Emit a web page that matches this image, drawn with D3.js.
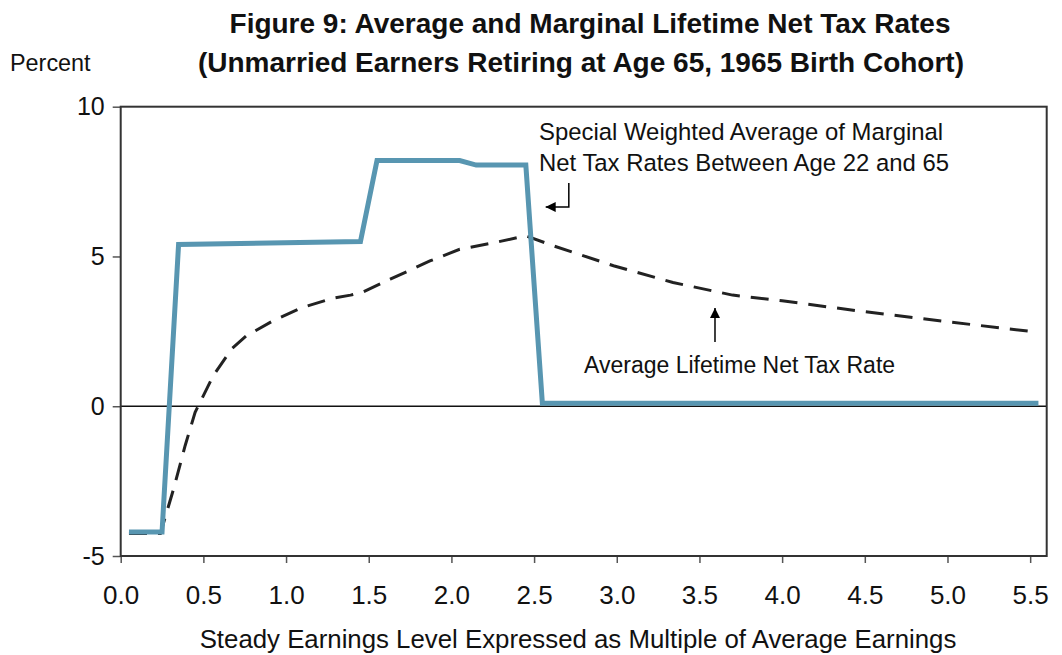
<!DOCTYPE html>
<html lang="en">

<head>
	<meta charset="UTF-8">
	<title>Figure 9</title>
	<style type="text/css">
		body { margin: 0; background: #fff; }
		text { font-family: 'Liberation Sans', Arial, sans-serif; fill: #111; }
	</style>
</head>

<body>
	<div id="chart"></div>

	<script src="https://d3js.org/d3.v7.min.js"></script>
	<script>
		// marginal net tax rate (solid blue step line)
		var marginalX = [0.05, 0.25, 0.35, 1.45, 1.55, 2.05, 2.15, 2.45, 2.55, 5.55];
		var marginalY = [-4.2, -4.2, 5.4, 5.5, 8.2, 8.2, 8.05, 8.05, 0.1, 0.1];

		// average lifetime net tax rate (dashed)
		var averageX = [0.05, 0.24, 0.32, 0.39, 0.45, 0.56, 0.67, 0.76, 0.92, 1.1, 1.28, 1.39, 1.46, 1.63, 1.87, 2.05, 2.25, 2.45, 2.62, 2.98, 3.34, 3.7, 4.0, 4.45, 5.0, 5.55];
		var averageY = [-4.25, -4.25, -2.76, -1.31, -0.2, 1.02, 1.91, 2.35, 2.85, 3.3, 3.6, 3.71, 3.8, 4.24, 4.85, 5.24, 5.45, 5.69, 5.35, 4.69, 4.13, 3.71, 3.52, 3.19, 2.82, 2.47];

		var xTicks = [0, 0.5, 1, 1.5, 2, 2.5, 3, 3.5, 4, 4.5, 5, 5.5];
		var yTicks = [-5, 0, 5, 10];

		var width = 1062, height = 655;
		var margin = { top: 106.7, right: 15.3, bottom: 99, left: 120.7 };

		var svg = d3.select('#chart')
			.append('svg')
			.attr('width', width)
			.attr('height', height);

		var xScale = d3.scaleLinear()
			.domain([0, 5.6])
			.range([margin.left, width - margin.right]);

		var yScale = d3.scaleLinear()
			.domain([-5, 10])
			.range([height - margin.bottom, margin.top]);

		var defs = svg.append('defs');
		defs.append('marker')
			.attr('id', 'head')
			.attr('viewBox', '0 0 10 10')
			.attr('refX', 10).attr('refY', 5)
			.attr('markerWidth', 10).attr('markerHeight', 10)
			.attr('markerUnits', 'userSpaceOnUse')
			.attr('orient', 'auto')
			.append('path')
			.attr('d', 'M0,0 L10,5 L0,10 Z')
			.attr('fill', '#000');

		// axes
		var xAxis = svg.append('g')
			.attr('transform', `translate(0, ${yScale(-5)})`)
			.call(d3.axisBottom(xScale).tickValues(xTicks).tickSize(7).tickPadding(23)
				.tickFormat(d3.format('.1f')));
		xAxis.select('.domain').remove();
		xAxis.selectAll('line').attr('stroke', '#555').attr('stroke-width', 1.5);
		xAxis.selectAll('text').style('font-size', '26px').attr('fill', '#111');

		var yAxis = svg.append('g')
			.attr('transform', `translate(${margin.left}, 0)`)
			.call(d3.axisLeft(yScale).tickValues(yTicks).tickSize(8).tickPadding(8)
				.tickFormat((d) => String(d)));
		yAxis.select('.domain').remove();
		yAxis.selectAll('line').attr('stroke', '#555').attr('stroke-width', 1.5);
		yAxis.selectAll('text').style('font-size', '25px').attr('fill', '#111');

		// zero line
		svg.append('line')
			.attr('x1', xScale(0)).attr('x2', xScale(5.6))
			.attr('y1', yScale(0)).attr('y2', yScale(0))
			.attr('stroke', '#111')
			.attr('stroke-width', 1.5);

		// plot frame
		svg.append('rect')
			.attr('x', xScale(0)).attr('y', yScale(10))
			.attr('width', xScale(5.6) - xScale(0))
			.attr('height', yScale(-5) - yScale(10))
			.attr('fill', 'none')
			.attr('stroke', '#333')
			.attr('stroke-width', 2);

		var lineGen = d3.line()
			.x((d) => xScale(d[0]))
			.y((d) => yScale(d[1]));

		svg.append('path')
			.datum(d3.zip(averageX, averageY))
			.attr('d', lineGen)
			.attr('fill', 'none')
			.attr('stroke', '#222')
			.attr('stroke-width', 3)
			.style('stroke-dasharray', '18,11');

		svg.append('path')
			.datum(d3.zip(marginalX, marginalY))
			.attr('d', lineGen)
			.attr('fill', 'none')
			.attr('stroke', '#5896b1')
			.attr('stroke-width', 5)
			.attr('stroke-linejoin', 'miter');

		// title
		var title = svg.append('text')
			.attr('text-anchor', 'middle')
			.style('font-weight', 'bold')
			.style('font-size', '28px');
		title.append('tspan').attr('x', 590).attr('y', 33)
			.text('Figure 9: Average and Marginal Lifetime Net Tax Rates');
		title.append('tspan').attr('x', 581).attr('y', 72)
			.text('(Unmarried Earners Retiring at Age 65, 1965 Birth Cohort)');

		svg.append('text')
			.attr('x', 10).attr('y', 71)
			.style('font-size', '23.4px')
			.text('Percent');

		svg.append('text')
			.attr('x', 578).attr('y', 648)
			.attr('text-anchor', 'middle')
			.style('font-size', '25.8px')
			.text('Steady Earnings Level Expressed as Multiple of Average Earnings');

		// annotations
		var note = svg.append('text').style('font-size', '23.9px');
		note.append('tspan').attr('x', 539).attr('y', 140)
			.text('Special Weighted Average of Marginal');
		note.append('tspan').attr('x', 539).attr('y', 171)
			.text('Net Tax Rates Between Age 22 and 65');

		svg.append('path')
			.attr('d', `M${xScale(2.71)},183 V207 H${xScale(2.57)}`)
			.attr('fill', 'none')
			.attr('stroke', '#000')
			.attr('stroke-width', 1.5)
			.attr('marker-end', 'url(#head)');

		svg.append('text')
			.attr('x', 584).attr('y', 373)
			.style('font-size', '23px')
			.text('Average Lifetime Net Tax Rate');

		svg.append('line')
			.attr('x1', xScale(3.594)).attr('x2', xScale(3.594))
			.attr('y1', 342).attr('y2', 308)
			.attr('stroke', '#000')
			.attr('stroke-width', 1.5)
			.attr('marker-end', 'url(#head)');

	</script>
</body>

</html>
